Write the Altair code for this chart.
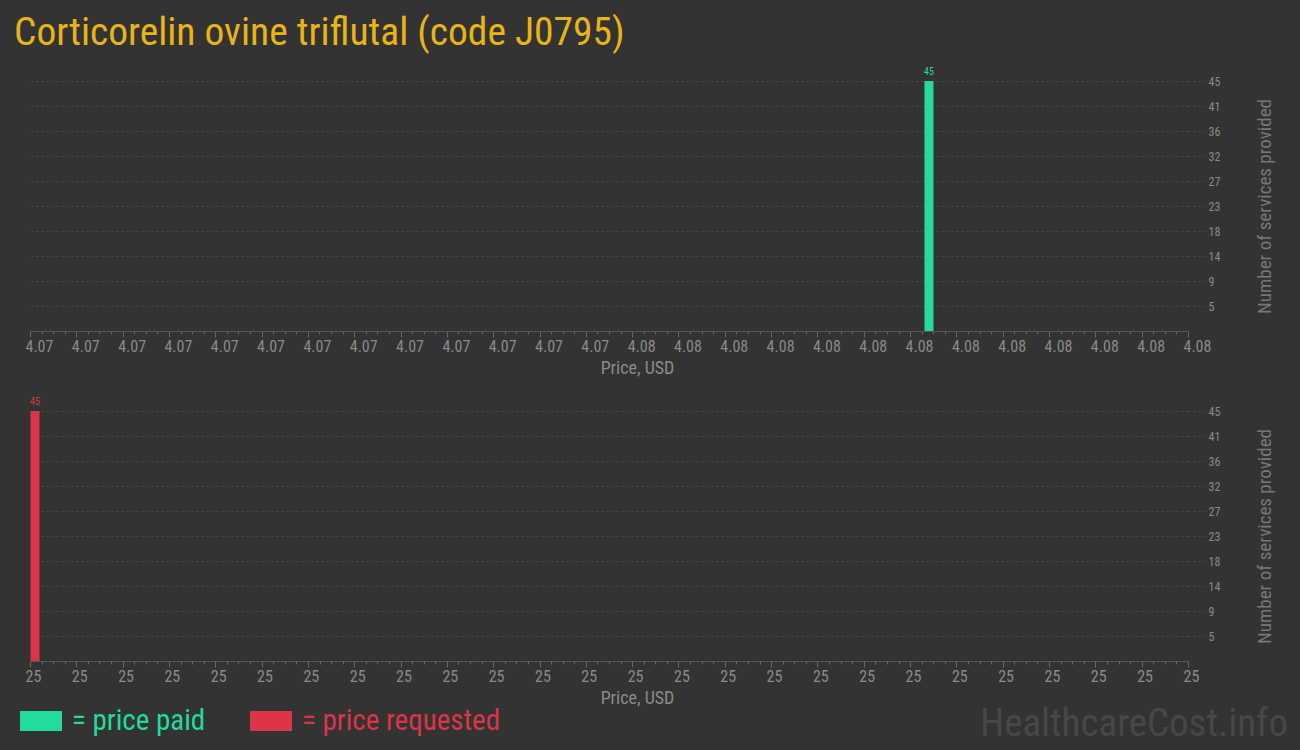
import altair as alt
import pandas as pd

title_text = "Corticorelin ovine triflutal (code J0795)"
watermark = "HealthcareCost.info"
series_names = ["price paid", "price requested"]
series_colors = ["#21dc9c", "#dc3545"]

paid_prices = [4.07772]
paid_counts = [45]
requested_prices = [25.0]
requested_counts = [45]

paid_domain = [4.07, 4.08]
requested_domain = [25.0, 25.25]
count_ticks = [4.5, 9, 13.5, 18, 22.5, 27, 31.5, 36, 40.5, 45]

FONT = "Roboto Condensed, Liberation Sans Narrow, DejaVu Sans Condensed, Roboto, sans-serif"
GRID = "#4a4a4a"
TEXT = "#8a8a8a"


def panel(prices, counts, name, bar_color, domain, fmt, legend_x, legend_y, extra=()):
    df = pd.DataFrame({"price": prices, "count": counts, "series": name})
    lo, hi = domain
    step = (hi - lo) / 25
    ticks = [lo + i * step / 4 for i in range(101)]
    # major ticks every 4th value, minor ones in between
    is_major = f"abs((datum.value - {lo}) / {step} - round((datum.value - {lo}) / {step})) < 0.01"

    x = alt.X("price:Q", scale=alt.Scale(domain=domain, nice=False, zero=False, padding=0),
              axis=alt.Axis(values=ticks, tickCount=len(ticks), title="Price, USD", grid=False,
                            labelExpr=f"{is_major} ? format(datum.value, '{fmt}') : ''",
                            labelAlign="left", labelOffset=-5, labelFlush=False,
                            labelOverlap=False, labelBound=False,
                            labelFont=FONT, labelFontSize=16, labelColor=TEXT, labelPadding=1,
                            tickSize={"condition": {"test": is_major, "value": 6}, "value": 3},
                            tickColor="#666", domainColor="#555",
                            titleFont=FONT, titleFontSize=18, titleColor=TEXT,
                            titleFontWeight="normal", titlePadding=5, titleX=607))
    y = alt.Y("count:Q", scale=alt.Scale(domain=[0, 45], nice=False),
              axis=alt.Axis(orient="right", values=count_ticks, tickCount=len(count_ticks),
                            format=".0f", grid=True, gridDash=[2, 3], gridColor=GRID,
                            domain=False, tickDash=[2, 3], tickColor=GRID, tickSize=17,
                            labelPadding=3, labelOverlap=False,
                            labelFont=FONT, labelFontSize=12, labelColor=TEXT,
                            title="Number of services provided", titleAngle=270,
                            titleFont=FONT, titleFontSize=19, titleColor="#777",
                            titleFontWeight="normal", titlePadding=55))
    col = alt.Color("series:N", scale=alt.Scale(domain=[name], range=[bar_color]),
                    legend=alt.Legend(orient="none", legendX=legend_x, legendY=legend_y, title=None,
                                      symbolType="M-1,-0.476L1,-0.476L1,0.476L-1,0.476Z",
                                      symbolSize=1764, symbolStrokeWidth=0, symbolOpacity=1,
                                      labelColor=bar_color, labelFont=FONT, labelFontSize=29,
                                      labelLimit=400, labelExpr="'= ' + datum.label",
                                      labelOffset=10, padding=0))

    bars = alt.Chart(df).mark_bar(size=9, xOffset=5).encode(x=x, y=y, color=col)
    labels = alt.Chart(df).mark_text(dy=-9, xOffset=5, fontSize=10, font=FONT, color=bar_color).encode(
        x="price:Q", y="count:Q", text="count:Q")
    return alt.layer(bars, labels, *extra).properties(width=1158, height=250)


mark_df = pd.DataFrame({"t": [watermark]})
wm = alt.Chart(mark_df).mark_text(align="right", baseline="alphabetic", font=FONT,
                                  fontSize=39, color="#474747").encode(
    x=alt.value(1258), y=alt.value(325), text="t:N")

top = panel(paid_prices, paid_counts, series_names[0], series_colors[0], paid_domain, ".2f", -10, 619)
bottom = panel(requested_prices, requested_counts, series_names[1], series_colors[1],
               requested_domain, ".0f", 220, 289, extra=(wm,))

chart = alt.vconcat(top, bottom, spacing=80, bounds="flush").resolve_scale(
    x="independent", color="independent"
).resolve_legend(color="independent").properties(
    title=alt.TitleParams(title_text, anchor="start", frame="group", dx=-16, fontSize=39.5,
                          font=FONT, color="#e8b416", fontWeight="normal", offset=14),
    padding={"left": 6, "top": 4, "right": 0, "bottom": 0},
).configure(background="#333333").configure_view(stroke=None)

chart.save("out.html", embed_options={"renderer": "svg", "actions": False})

# dark page behind the chart, no scrollbars
with open("out.html", encoding="utf-8") as f:
    html = f.read()
html = html.replace("<body>", '<body style="background-color:#333333; overflow:hidden">', 1)
with open("out.html", "w", encoding="utf-8") as f:
    f.write(html)
